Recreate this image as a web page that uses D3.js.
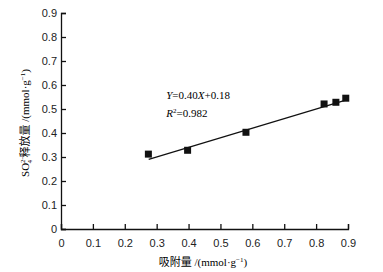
<!DOCTYPE html>
<head>
  <meta charset="utf-8">
  <script src="https://cdn.jsdelivr.net/npm/d3@7"></script>
  <style>
    body { margin: 0; background: #fff; }
    svg { display: block; font-family: "Liberation Serif", "Times New Roman", serif; }
    .tick text { font-size: 11px; fill: #222; }
  </style>
</head>
<body>
  <div id="chart"></div>
  <script>

  var adsorbed = [0.274, 0.397, 0.58, 0.825, 0.862, 0.893]
    , released = [0.312, 0.328, 0.403, 0.521, 0.528, 0.545]
    , fitSlope = 0.40
    , fitIntercept = 0.18
    , fitRange = [0.275, 0.893]
    , xTicks = [0, 0.1, 0.2, 0.3, 0.4, 0.5, 0.6, 0.7, 0.8, 0.9]
    , yTicks = [0, 0.1, 0.2, 0.3, 0.4, 0.5, 0.6, 0.7, 0.8, 0.9]

  var width = 383, height = 272
    , margin = {top: 13, right: 35, bottom: 43, left: 61}

  var x = d3.scaleLinear()
      .domain([0, 0.9])
      .range([margin.left, width - margin.right])

  var y = d3.scaleLinear()
      .domain([0, 0.9])
      .range([height - margin.bottom, margin.top])

  var svg = d3.select("#chart").append("svg")
      .attr("width", width)
      .attr("height", height)

  // axes, ticks point inward
  var xAxis = svg.append("g")
      .attr("transform", "translate(0," + y(0) + ")")
      .call(d3.axisTop(x).tickValues(xTicks).tickSizeOuter(0).tickSize(5)
        .tickFormat(function(d) { return d === 0 ? "0" : d3.format(".1f")(d) }))
  xAxis.selectAll(".tick text").attr("y", 10).attr("dy", "0.71em")

  var yAxis = svg.append("g")
      .attr("transform", "translate(" + x(0) + ",0)")
      .call(d3.axisRight(y).tickValues(yTicks).tickSizeOuter(0).tickSize(5)
        .tickFormat(function(d) { return d === 0 ? "0" : d3.format(".1f")(d) }))
  yAxis.selectAll(".tick text").attr("x", -4).style("text-anchor", "end")

  svg.selectAll(".domain, .tick line").attr("stroke", "#111").attr("stroke-width", 1.3)

  // fitted line
  svg.append("line")
      .attr("x1", x(fitRange[0]))
      .attr("y1", y(fitSlope * fitRange[0] + fitIntercept))
      .attr("x2", x(fitRange[1]))
      .attr("y2", y(fitSlope * fitRange[1] + fitIntercept))
      .attr("stroke", "#111")
      .attr("stroke-width", 1.2)

  svg.selectAll(".pt")
      .data(adsorbed)
    .enter().append("rect")
      .attr("class", "pt")
      .attr("x", function(d) { return x(d) - 3.5 })
      .attr("y", function(d, i) { return y(released[i]) - 3.5 })
      .attr("width", 7)
      .attr("height", 7)
      .attr("fill", "#111")

  // equation
  var eq = svg.append("text")
      .attr("x", x(0.33))
      .attr("y", y(0.54))
      .style("font-size", "11px")
  eq.append("tspan").style("font-style", "italic").text("Y")
  eq.append("tspan").text("=0.40")
  eq.append("tspan").style("font-style", "italic").text("X")
  eq.append("tspan").text("+0.18")

  var r2 = svg.append("text")
      .attr("x", x(0.33))
      .attr("y", y(0.465))
      .style("font-size", "11px")
  r2.append("tspan").style("font-style", "italic").text("R")
  r2.append("tspan").attr("dy", -4).style("font-size", "7px").text("2")
  r2.append("tspan").attr("dy", 4).text("=0.982")

  // axis titles
  var xl = svg.append("text")
      .attr("x", 203)
      .attr("y", 266)
      .style("text-anchor", "middle")
      .style("font-size", "11px")
  xl.append("tspan").style("font-family", "'Noto Sans CJK SC'").text("吸附量")
  xl.append("tspan").text(" /(mmol·g")
  xl.append("tspan").attr("dy", -4).style("font-size", "7px").text("−1")
  xl.append("tspan").attr("dy", 4).text(")")

  var yl = svg.append("text")
      .attr("transform", "translate(29,123) rotate(-90)")
      .style("text-anchor", "middle")
      .style("font-size", "11px")
  yl.append("tspan").text("SO")
  yl.append("tspan").attr("dy", -4).style("font-size", "7px").text("2−")
  yl.append("tspan").attr("dx", -8).attr("dy", 7).style("font-size", "7px").text("4")
  yl.append("tspan").attr("dy", -3).style("font-family", "'Noto Sans CJK SC'").text(" 释放量")
  yl.append("tspan").text(" /(mmol·g")
  yl.append("tspan").attr("dy", -4).style("font-size", "7px").text("−1")
  yl.append("tspan").attr("dy", 4).text(")")

  </script>
</body>
